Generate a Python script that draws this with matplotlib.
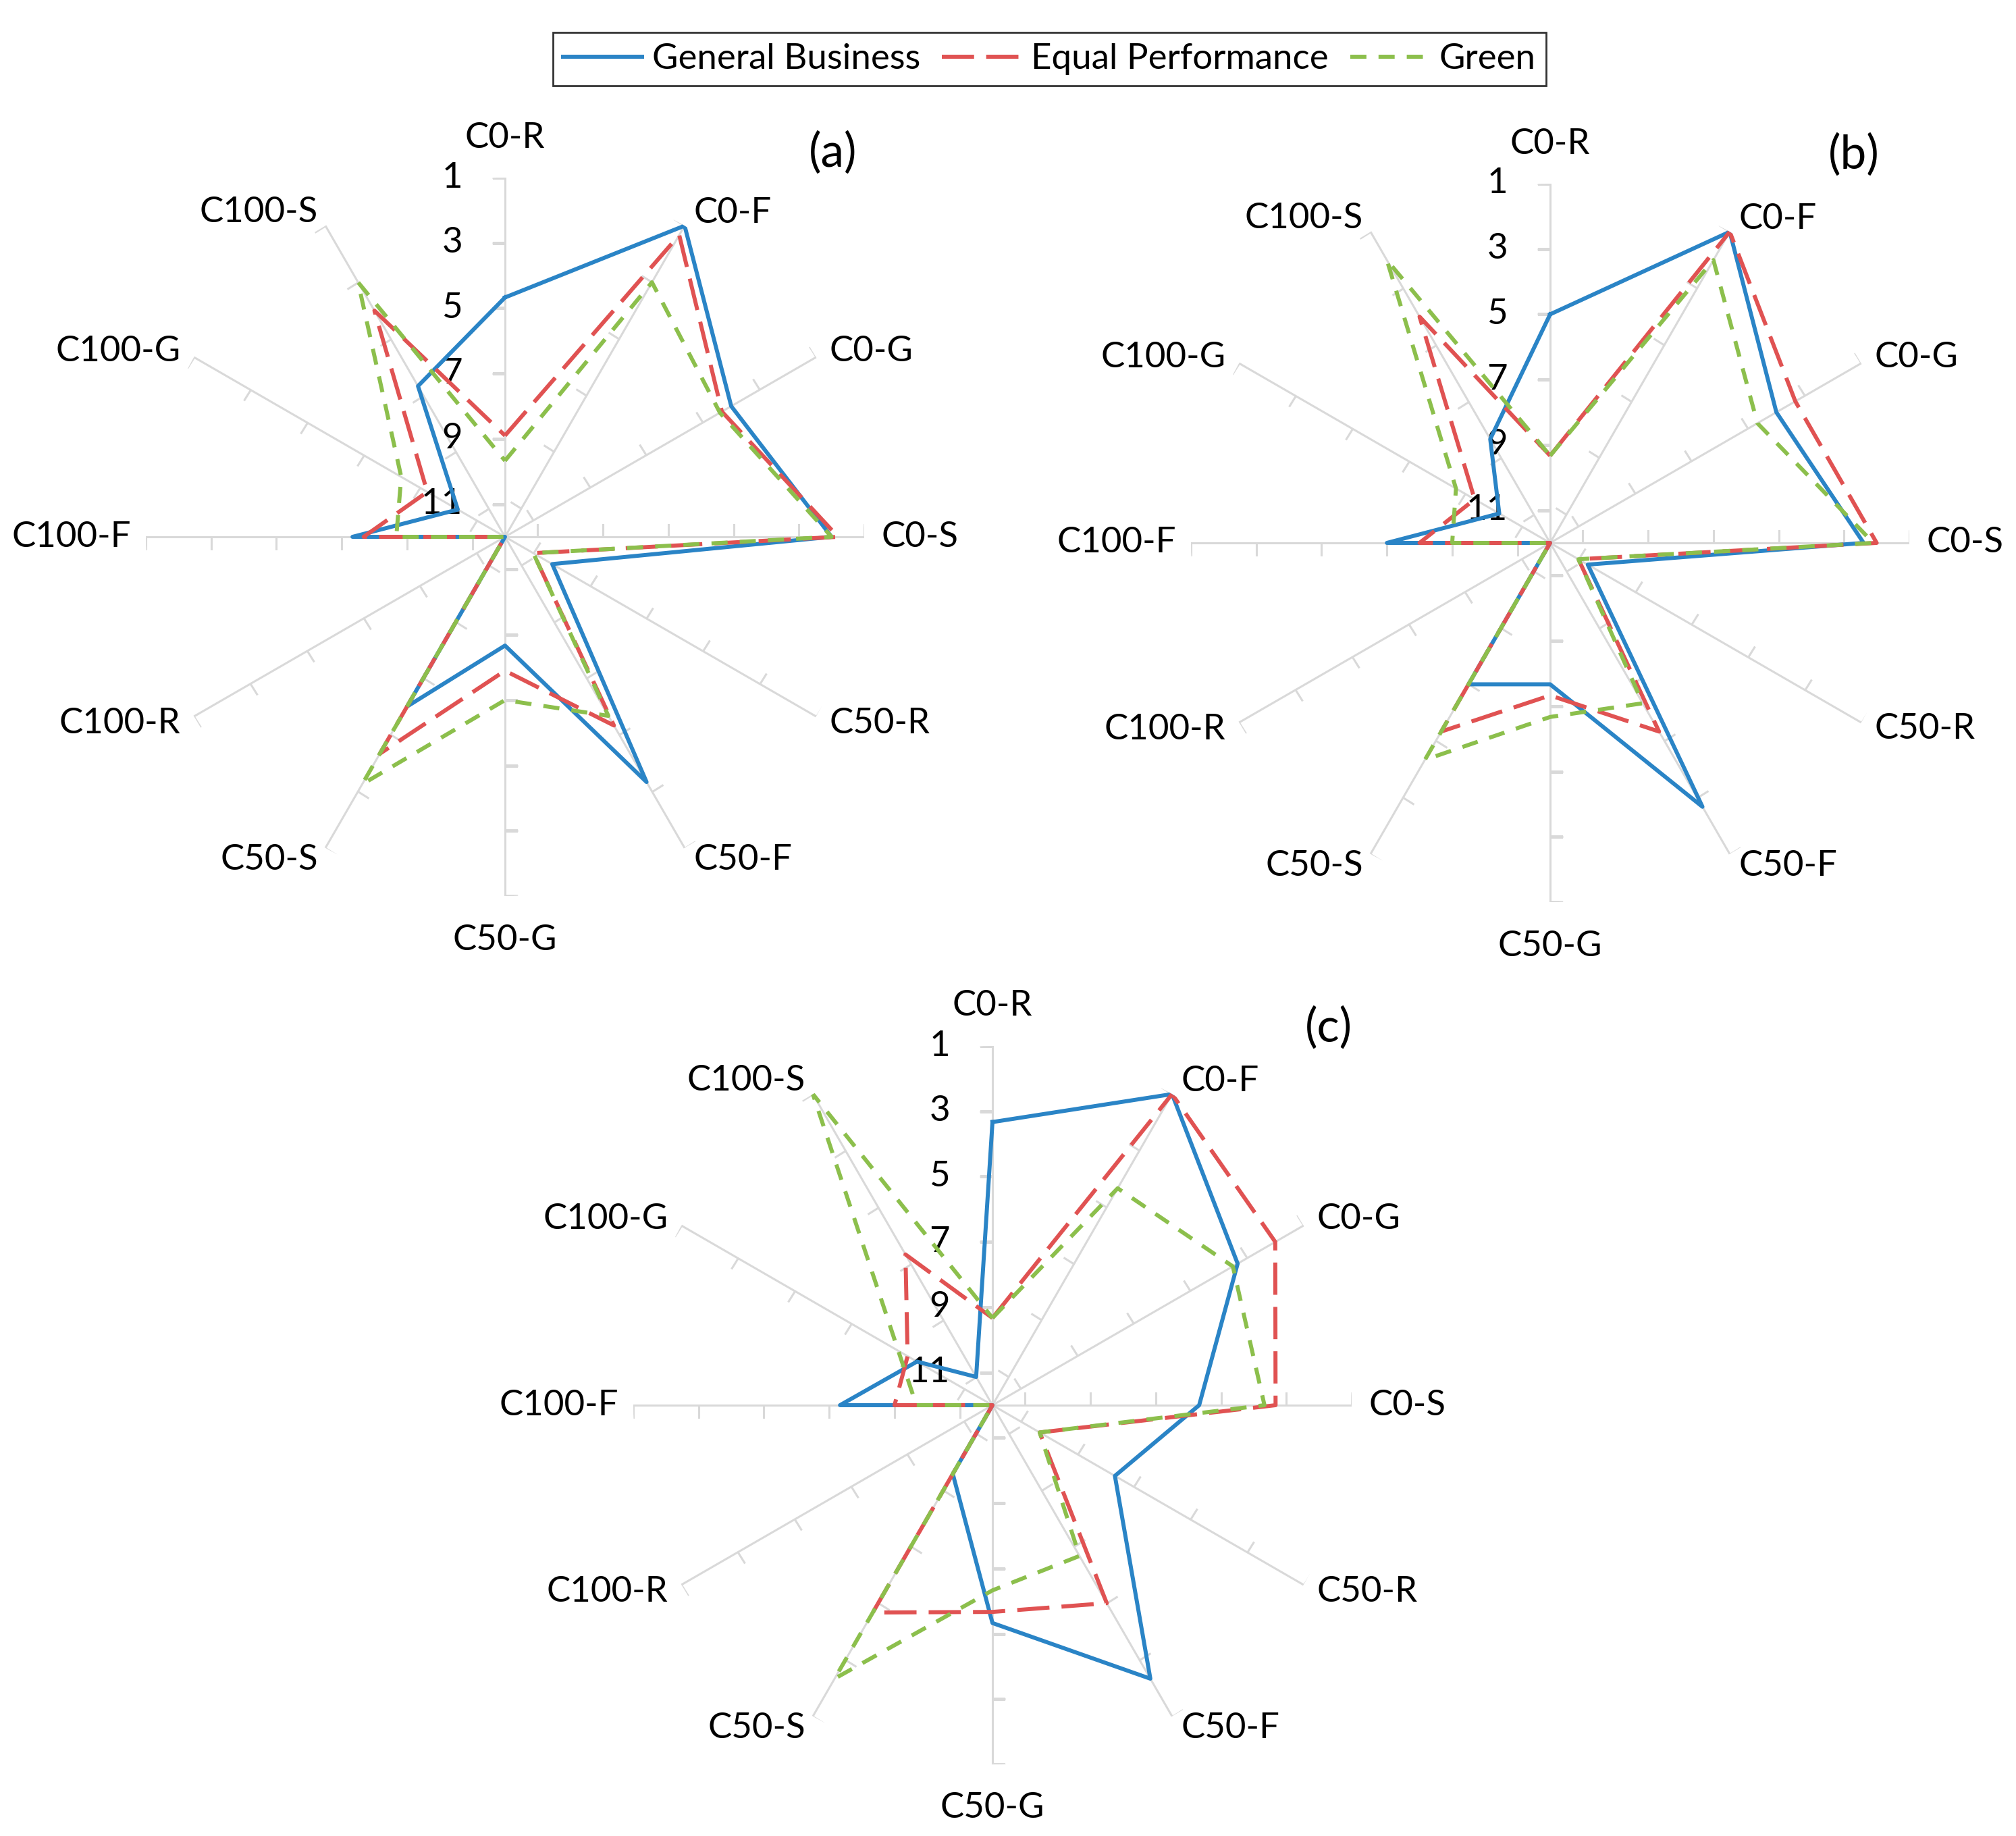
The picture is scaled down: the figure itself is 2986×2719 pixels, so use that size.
import numpy as np
import matplotlib
matplotlib.use("Agg")
import matplotlib.pyplot as plt
from matplotlib.markers import MarkerStyle, TICKRIGHT
from matplotlib.transforms import Affine2D
from matplotlib.lines import Line2D

plt.rcParams['font.family'] = ['Lato', 'DejaVu Sans']

# categories, clockwise from the top
categories = ["C0-R", "C0-F", "C0-G", "C0-S", "C50-R", "C50-F", "C50-G",
              "C50-S", "C100-R", "C100-F", "C100-G", "C100-S"]
series_names = ["General Business", "Equal Performance", "Green"]
rank_ticks = [1, 3, 5, 7, 9, 11]

# (a)
a_general = [4.67, 1.0, 4.0, 2.0, 10.33, 3.33, 8.67, 6.0, 12, 7.33, 10.33, 6.67]
a_equal = [8.9, 1.33, 4.33, 1.8, 11.0, 5.33, 7.9, 4.33, 12, 7.67, 9.25, 4.0]
a_green = [9.67, 3.0, 4.4, 2.0, 11.0, 5.67, 7.0, 3.25, 12, 8.67, 8.33, 3.0]

# (b)
b_general = [5.0, 1.0, 4.0, 2.4, 10.67, 2.67, 7.67, 7.0, 12, 7.0, 10.2, 8.33]
b_equal = [9.33, 1.0, 3.33, 2.0, 11.0, 5.33, 7.33, 5.33, 12, 8.0, 9.33, 4.0]
b_green = [9.33, 2.0, 4.67, 2.1, 11.0, 6.33, 6.67, 4.33, 12, 9.0, 8.67, 2.0]

# (c)
c_general = [3.33, 1.0, 3.33, 5.67, 7.67, 2.33, 5.33, 9.57, 12, 7.33, 9.33, 11.0]
c_equal = [9.33, 1.0, 2.0, 3.33, 10.33, 5.0, 5.67, 4.67, 12, 9.0, 9.0, 6.67]
c_green = [9.33, 4.33, 3.5, 3.67, 10.33, 6.67, 6.33, 2.33, 12, 9.67, 8.67, 1.0]

colors = ['#2A84C6', '#E05252', '#8CBF4C']
styles = ['-', (0, (8, 3)), (0, (4, 3))]
grey = '#D9D9D9'

W, H = 2986, 2719
PX = 0.72  # pixels -> points at dpi 100
fig = plt.figure(figsize=(W / 100, H / 100), dpi=100)

R = 532
panels = [
    ("(a)", (748, 795), (1234, 226), [a_general, a_equal, a_green]),
    ("(b)", (2296, 804), (2746, 229), [b_general, b_equal, b_green]),
    ("(c)", (1470, 2081), (1968, 1522), [c_general, c_equal, c_green]),
]

# label offsets from the end of each spoke, in pixels
label_pos = [(0, 59, 'center'), (13, 19, 'left'), (20, 9, 'left'), (26, 0, 'left'),
             (20, -10, 'left'), (13, -18, 'left'), (0, -65, 'center'),
             (-11, -18, 'right'), (-20, -10, 'right'), (-22, 0, 'right'),
             (-20, 9, 'right'), (-11, 20, 'right')]

theta = np.deg2rad(np.arange(len(categories)) * 30)

for tag, (cx, cy), (tx, ty), data in panels:
    ax = fig.add_axes([(cx - R) / W, 1 - (cy + R) / H, 2 * R / W, 2 * R / H],
                      projection='polar')
    ax.set_theta_zero_location('N')
    ax.set_theta_direction(-1)
    ax.set_ylim(12, 1)
    ax.grid(False)
    ax.set_xticks([])
    ax.set_yticks([])
    ax.spines['polar'].set_visible(False)
    ax.patch.set_alpha(0)

    # spokes with tick marks
    for i, th in enumerate(theta):
        ax.plot([th, th], [12, 1], color=grey, lw=2.2, zorder=1)
        m = MarkerStyle(TICKRIGHT, transform=Affine2D().rotate_deg(180 - i * 30))
        ax.plot([th] * len(rank_ticks), rank_ticks, ls='none', marker=m,
                ms=13.7, mew=2.2, color=grey, zorder=1)
        dx, dy, ha = label_pos[i]
        ax.annotate(categories[i], xy=(th, 1), xytext=(dx * PX, dy * PX),
                    textcoords='offset points', ha=ha, va='center', fontsize=38)

    for k in rank_ticks:
        ax.annotate(str(k), xy=(0, k), xytext=(-63 * PX, 0),
                    textcoords='offset points', ha='right', va='center', fontsize=38)

    for vals, c, ls in zip(data, colors, styles):
        ax.plot(np.append(theta, theta[0]), vals + vals[:1], color=c, ls=ls,
                lw=4.3, zorder=3)

    fig.text(tx / W, 1 - ty / H, tag, ha='center', va='center', fontsize=50)

handles = [Line2D([], [], color=c, ls=ls, lw=4.3) for c, ls in zip(colors, styles)]
leg = fig.legend(handles, series_names, loc='center', bbox_to_anchor=(0.5206, 0.9678),
                 ncol=3, frameon=True, fancybox=False, edgecolor='black', fontsize=38,
                 handlelength=2.2, handletextpad=0.3, columnspacing=0.6, borderpad=0.3)
leg.get_frame().set_linewidth(2)

fig.savefig("out.png", dpi=100, facecolor='white')
